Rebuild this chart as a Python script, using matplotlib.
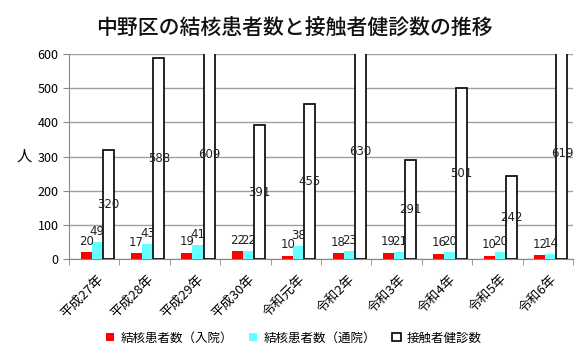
import numpy as np
import matplotlib
matplotlib.use("Agg")
from matplotlib import pyplot as plt
from matplotlib.transforms import ScaledTranslation

plt.rcParams["font.family"] = ["Noto Sans CJK JP", "DejaVu Sans"]

years = ["平成27年", "平成28年", "平成29年", "平成30年", "令和元年",
         "令和2年", "令和3年", "令和4年", "令和5年", "令和6年"]
inpatient = [20, 17, 19, 22, 10, 18, 19, 16, 10, 12]
outpatient = [49, 43, 41, 22, 38, 23, 21, 20, 20, 14]
checkups = [320, 588, 609, 391, 455, 630, 291, 501, 242, 619]

fig = plt.figure(figsize=(5.88, 3.59), dpi=100)
ax = fig.add_axes((69 / 588, 1 - 259 / 359, 504 / 588, 205 / 359))

x = np.arange(len(years))
w = 0.22
b1 = ax.bar(x - w + 0.06, inpatient, w, color="#ff0000", label="結核患者数（入院）", zorder=3)
b2 = ax.bar(x + 0.06, outpatient, w, color="#66ffff", label="結核患者数（通院）", zorder=3)
b3 = ax.bar(x + w + 0.06, checkups, w, color="white", edgecolor="black",
            linewidth=1.2, label="接触者健診数", zorder=3)

for bars, vals in ((b1, inpatient), (b2, outpatient)):
    for r, v in zip(bars, vals):
        ax.annotate(str(v), (r.get_x() + r.get_width() / 2, v), xytext=(0, 3),
                    textcoords="offset points", ha="center", va="bottom",
                    fontsize=8.5, family="DejaVu Sans", color="#222222", zorder=5)
for r, v in zip(b3, checkups):
    ax.text(r.get_x() + r.get_width() / 2, v / 2, str(v), ha="center", va="center",
            fontsize=8.5, family="DejaVu Sans", color="#222222", zorder=5)

ax.set_xlim(-0.5, len(years) - 0.5)
ax.set_ylim(0, 600)
ax.set_yticks(range(0, 601, 100))
ax.yaxis.grid(True, color="#a0a0a0", linewidth=1, zorder=0)
ax.set_xticks(x)
ax.set_xticklabels(years, rotation=45, ha="right", va="center",
                   rotation_mode="anchor", fontsize=9.5)
ax.tick_params(axis="x", length=0, pad=13)
# nudge the rotated labels a little to the right, like the original
shift = ScaledTranslation(5 / 72, 0, fig.dpi_scale_trans)
for lbl in ax.get_xticklabels():
    lbl.set_transform(lbl.get_transform() + shift)
ax.set_xticks(np.arange(-0.5, len(years)), minor=True)
ax.tick_params(axis="x", which="minor", length=4, color="#888888")
ax.tick_params(axis="y", length=4, color="#888888", labelsize=9)
for s in ("top", "right"):
    ax.spines[s].set_visible(False)
ax.spines["left"].set_color("#888888")
ax.spines["bottom"].set_color("#888888")

ax.set_ylabel("人", rotation=0, fontsize=11, labelpad=10, va="center")
fig.text(0.5, 1 - 28 / 359, "中野区の結核患者数と接触者健診数の推移",
         ha="center", va="center", fontsize=15, fontweight="medium", color="#111111")
fig.legend(handles=[b1, b2, b3], loc="center", bbox_to_anchor=(0.5, 1 - 338 / 359),
           ncol=3, frameon=False, fontsize=9, handlelength=0.65, handleheight=0.65,
           handletextpad=0.5, columnspacing=1.3)

fig.savefig("out.png", dpi=100)
